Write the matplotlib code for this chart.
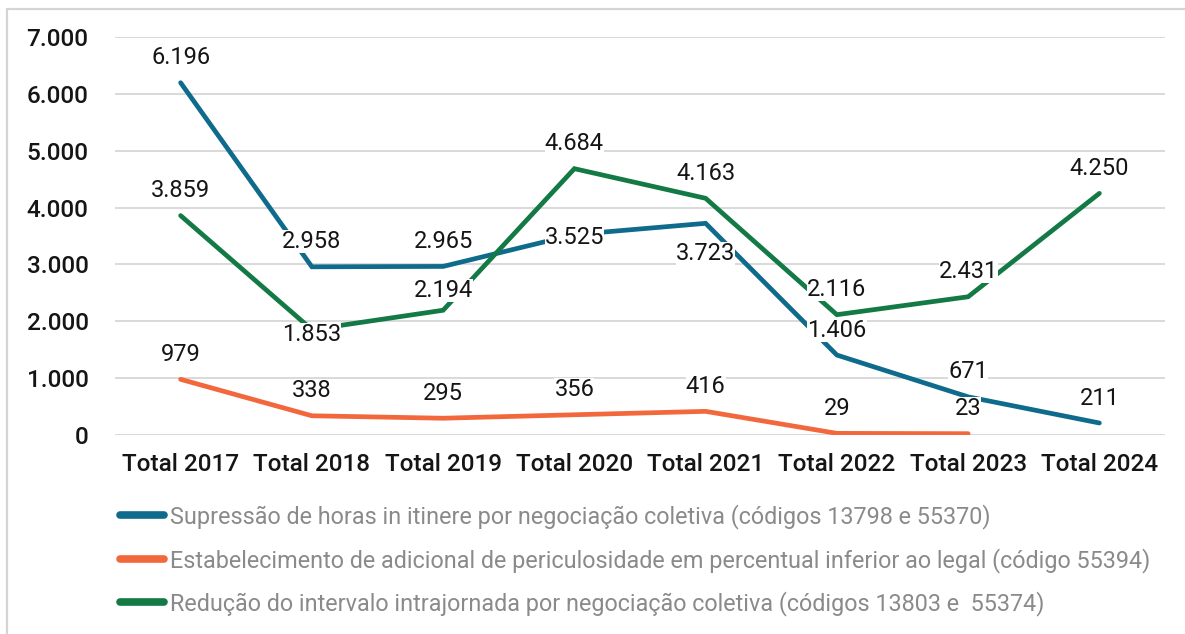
import matplotlib
matplotlib.use("Agg")
import matplotlib.pyplot as plt
from matplotlib.lines import Line2D
import numpy as np

categories = ["Total 2017", "Total 2018", "Total 2019", "Total 2020",
              "Total 2021", "Total 2022", "Total 2023", "Total 2024"]
supressao = [6196, 2958, 2965, 3525, 3723, 1406, 671, 211]
periculosidade = [979, 338, 295, 356, 416, 29, 23, None]
intrajornada = [3859, 1853, 2194, 4684, 4163, 2116, 2431, 4250]
yticks = [0, 1000, 2000, 3000, 4000, 5000, 6000, 7000]
ytick_labels = ["0", "1.000", "2.000", "3.000", "4.000", "5.000", "6.000", "7.000"]

series_names = [
    "Supressão de horas in itinere por negociação coletiva (códigos 13798 e 55370)",
    "Estabelecimento de adicional de periculosidade em percentual inferior ao legal (código 55394)",
    "Redução do intervalo intrajornada por negociação coletiva (códigos 13803 e  55374)",
]
colors = ["#0f6b8b", "#f2683c", "#137a45"]

# label vertical offsets in points (styling)
off_sup = [18, 18, 18, -2, -21.5, 18, 18, 18]
off_per = [18, 18, 18, 18, 18, 18, 18, 18]
off_int = [18, -3.5, 14, 18, 18, 18, 18, 18]

plt.rcParams["font.family"] = ["Roboto", "DejaVu Sans"]

fig = plt.figure(figsize=(11.85, 6.34), dpi=100)
ax = fig.add_axes([115/1185, 1-435/634, 1050/1185, 398/634])

x = np.arange(len(categories))

def fmt(v):
    return f"{v:,}".replace(",", ".")

all_series = [supressao, periculosidade, intrajornada]
offsets = [off_sup, off_per, off_int]
for s, c, name in zip(all_series, colors, series_names):
    xs = [i for i, v in zip(x, s) if v is not None]
    ys = [v for v in s if v is not None]
    ax.plot(xs, ys, color=c, lw=3.4, solid_capstyle="round",
            solid_joinstyle="miter", label=name, zorder=3)

for s, offs in zip(all_series, offsets):
    for i, (v, o) in enumerate(zip(s, offs)):
        if v is None:
            continue
        ax.annotate(fmt(v), (x[i], v), xytext=(0, o), textcoords="offset points",
                    ha="center", va="center", fontsize=17, color="#151515",
                    zorder=5,
                    bbox=dict(boxstyle="square,pad=0.0", fc="white", ec="none"))

ax.set_xlim(-0.5, len(categories) - 0.5)
ax.set_ylim(0, 7000)
ax.set_yticks(yticks)
ax.set_yticklabels(ytick_labels)
ax.set_xticks(x)
ax.set_xticklabels(categories)
ax.grid(axis="y", color="#d9d9d9", lw=1.4)
ax.set_axisbelow(True)
for sp in ax.spines.values():
    sp.set_visible(False)
ax.tick_params(axis="both", length=0, labelsize=17.5, colors="#151515")
ax.tick_params(axis="y", pad=19)
ax.tick_params(axis="x", pad=13)
for lab in ax.get_xticklabels() + ax.get_yticklabels():
    lab.set_fontweight("medium")

leg = fig.legend(loc="upper left", bbox_to_anchor=(120/1185, 1-504/634),
                 frameon=False, fontsize=16.8, handlelength=1.9,
                 handletextpad=0.25, labelspacing=0.8, borderpad=0,
                 borderaxespad=0)
for t in leg.get_texts():
    t.set_color("#8a8a8a")
for h in leg.get_lines():
    h.set_linewidth(5.5)
    h.set_solid_capstyle("round")

# figure frame (top and left edges)
fig.add_artist(Line2D([7/1185, 7/1185, 1.0], [0.0, 1-9/634, 1-9/634],
                      transform=fig.transFigure, color="#d4d4d4", lw=1.6))

fig.savefig("out.png", dpi=100, facecolor="white")
